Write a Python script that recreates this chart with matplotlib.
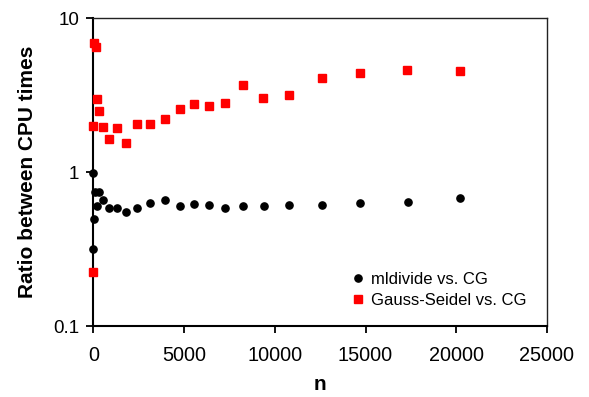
import matplotlib
matplotlib.use("Agg")
import matplotlib.pyplot as plt
from matplotlib.ticker import FixedLocator, NullLocator, FixedFormatter

plt.rcParams['font.family'] = ['Liberation Sans', 'DejaVu Sans']

n_mldivide = [0, 7, 55, 94, 187, 314, 551, 882, 1306, 1802, 2392, 3141, 3968, 4794,
              5549, 6359, 7274, 8266, 9390, 10767, 12602, 14712, 17324, 20223]
r_mldivide = [0.318, 0.994, 0.497, 0.748, 0.607, 0.745, 0.661, 0.584, 0.589, 0.55, 0.586,
              0.632, 0.658, 0.604, 0.623, 0.610, 0.586, 0.604, 0.604, 0.616, 0.610,
              0.629, 0.641, 0.681]

n_gauss = [7, 7, 55, 132, 187, 331, 551, 882, 1322, 1818, 2424, 3141, 3968, 4794,
           5565, 6359, 7274, 8266, 9368, 10785, 12620, 14712, 17302, 20223]
r_gauss = [0.225, 1.99, 6.95, 6.48, 2.98, 2.49, 1.96, 1.64, 1.93, 1.54, 2.05, 2.05,
           2.21, 2.56, 2.76, 2.68, 2.81, 3.69, 3.04, 3.16, 4.10, 4.41, 4.62, 4.55]

x_ticks = [0, 5000, 10000, 15000, 20000, 25000]
y_ticks = [0.1, 1, 10]
y_tick_labels = ['0.1', '1', '10']

fig = plt.figure(figsize=(5.89, 3.97), dpi=100)
ax = fig.add_axes([93.3 / 589, 1 - 326.3 / 397, (547 - 93.3) / 589, (326.3 - 18.3) / 397])

ax.plot(n_mldivide, r_mldivide, linestyle='none', marker='o', markersize=5.2,
        color='black', markeredgecolor='black', label='mldivide vs. CG', clip_on=False, zorder=3)
ax.plot(n_gauss, r_gauss, linestyle='none', marker='s', markersize=5.2,
        color='#ff0000', markeredgecolor='#ff0000', label='Gauss-Seidel vs. CG', clip_on=False, zorder=3)

ax.set_yscale('log')
ax.set_xlim(0, 25000)
ax.set_ylim(0.1, 10)
ax.xaxis.set_major_locator(FixedLocator(x_ticks))
ax.yaxis.set_major_locator(FixedLocator(y_ticks))
ax.yaxis.set_major_formatter(FixedFormatter(y_tick_labels))
ax.yaxis.set_minor_locator(NullLocator())

for s in ['left', 'bottom']:
    ax.spines[s].set_linewidth(1.5)
    ax.spines[s].set_color('black')
for s in ['top', 'right']:
    ax.spines[s].set_linewidth(1.0)
    ax.spines[s].set_color('#222222')

ax.tick_params(axis='both', which='major', direction='out', length=5, width=1.3,
               colors='black', pad=5)
ax.tick_params(axis='y', labelsize=13.5)
ax.tick_params(axis='x', labelsize=14.3, pad=9.5)

ax.set_xlabel('n', fontsize=15, fontweight='bold', labelpad=7)
ax.set_ylabel('Ratio between CPU times', fontsize=15, fontweight='bold')
ax.yaxis.set_label_coords(-0.124, 0.5)

leg = ax.legend(loc='lower left', bbox_to_anchor=(0.546, 0.023), frameon=False, fontsize=12,
                handlelength=0.6, handletextpad=0.5, labelspacing=0.35, borderpad=0.2)

fig.savefig('out.png', dpi=100)
